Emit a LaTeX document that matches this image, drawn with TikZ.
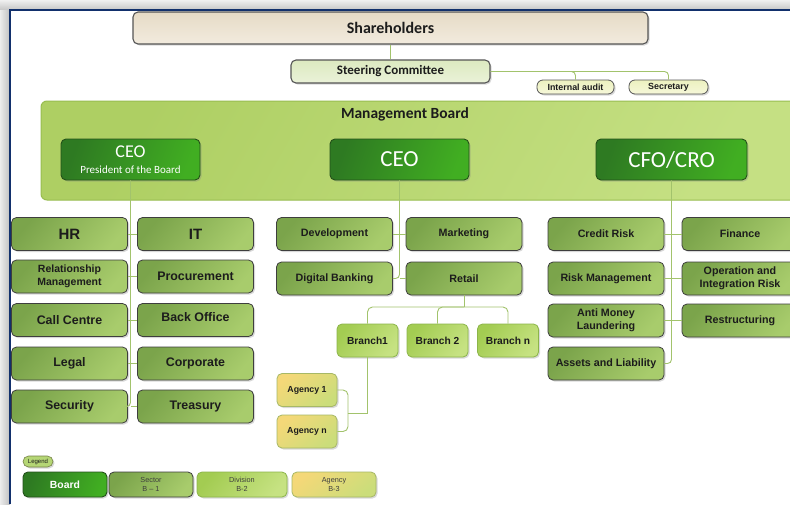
\documentclass[tikz,border=0pt]{standalone}
\usepackage{fontspec}
\setmainfont{Carlito}
\newfontfamily\arialf{Liberation Sans}
\usetikzlibrary{shadows}

\definecolor{inkCol}{HTML}{1C1C1C}
\definecolor{frameBlue}{HTML}{12306C}
\definecolor{connCol}{HTML}{A2C36C}
\definecolor{shareA}{HTML}{E6DBC6}
\definecolor{shareB}{HTML}{F2EBDE}
\definecolor{steerA}{HTML}{DCE9C0}
\definecolor{steerB}{HTML}{EAF2D8}
\definecolor{smallA}{HTML}{ECF1BF}
\definecolor{smallB}{HTML}{F6F8DA}
\definecolor{edgeGray}{HTML}{555555}
\definecolor{panelA}{HTML}{AECF63}
\definecolor{panelB}{HTML}{C5E083}
\definecolor{panelEdge}{HTML}{98BD50}
\definecolor{boardA}{HTML}{2E7A22}
\definecolor{boardB}{HTML}{41AE22}
\definecolor{boardEdge}{HTML}{24501A}
\definecolor{sectA}{HTML}{7BA44B}
\definecolor{sectB}{HTML}{A8CC6C}
\definecolor{sectEdge}{HTML}{3E3E3E}
\definecolor{divA}{HTML}{A3CC52}
\definecolor{divB}{HTML}{C6E282}
\definecolor{divEdge}{HTML}{8CB54A}
\definecolor{agA}{HTML}{F4D878}
\definecolor{agB}{HTML}{CBDD7A}
\definecolor{agEdge}{HTML}{A7B866}

\newcommand\fsz[2]{\fontsize{#1}{#2}\selectfont}

\begin{document}
\begin{tikzpicture}[x=1pt,y=-1pt,
		conn/.style={draw=connCol, line width=0.9pt},
		box/.style={rounded corners=5pt, inner sep=0pt, align=center,
			drop shadow={shadow xshift=1.5pt, shadow yshift=-1.5pt, opacity=0.3}},
		topbox/.style={box, draw=edgeGray, line width=1.1pt, text=inkCol},
		board/.style={box, draw=boardEdge, line width=0.9pt, left color=boardA, right color=boardB,
			shading angle=70, text=white},
		sector/.style={box, draw=sectEdge, line width=0.8pt, left color=sectA, right color=sectB,
			shading angle=50, text=inkCol, minimum width=116pt, minimum height=33pt,
			font=\arialf\bfseries\fsz{10.7}{13}},
		division/.style={box, draw=divEdge, line width=0.8pt, left color=divA, right color=divB,
			shading angle=50, text=inkCol, minimum width=61pt, minimum height=33pt,
			font=\arialf\bfseries\fsz{10.2}{12}},
		agency/.style={box, draw=agEdge, line width=0.8pt, left color=agA, right color=agB,
			shading angle=40, text=inkCol, minimum width=60pt, minimum height=33pt,
			font=\arialf\bfseries\fsz{8.8}{10}},
	]
		\useasboundingbox (0,0) rectangle (790,504);
		\clip (0,0) rectangle (790,504);

		% window frame
		\fill[gray!35] (0,0) rectangle (790,504);
		\shade[top color=gray!12, bottom color=gray!45] (0,0) rectangle (790,10);
		\shade[left color=gray!15, right color=gray!50] (0,10) rectangle (10,504);
		\fill[white] (10,10) rectangle (790,504);
		\draw[frameBlue, line width=1.6pt] (10,504) -- (10,10) -- (790,10);

		% top of the chart
		\node[topbox, top color=shareA, bottom color=shareB, minimum width=515pt, minimum height=32pt,
			font=\bfseries\fsz{16}{18}] (share) at (390.5,28) {Shareholders};
		\node[topbox, top color=steerA, bottom color=steerB, minimum width=199pt, minimum height=23pt,
			font=\bfseries\fsz{13}{15}] (steer) at (390.5,71.5) {Steering Committee};
		\node[topbox, line width=0.8pt, top color=smallA, bottom color=smallB, rounded corners=6pt,
			minimum width=77pt, minimum height=14pt, font=\arialf\bfseries\fsz{8.9}{10}]
			(audit) at (575.5,87) {Internal audit};
		\node[topbox, line width=0.8pt, top color=smallA, bottom color=smallB, rounded corners=6pt,
			minimum width=79pt, minimum height=14pt, font=\arialf\bfseries\fsz{8.9}{10}]
			(secr) at (668.5,87) {Secretary};

		\draw[conn] (share.south) -- (steer.north);
		\draw[conn, rounded corners=4pt] (steer.east) -| (audit.north);
		\draw[conn, rounded corners=4pt] (steer.east) -| (secr.north);

		% management board panel
		\shade[draw=panelEdge, line width=1pt, rounded corners=6pt, left color=panelA, right color=panelB,
			shading angle=60] (41,101) rectangle (805,200);
		\node[font=\bfseries\fsz{15.5}{17}, text=inkCol] (mbtitle) at (405,114) {Management Board};

		\node[board, minimum width=139pt, minimum height=41pt, font=\fsz{11}{16}] (ceoP) at (130.5,159.5)
			{{\fsz{18}{16}CEO}\\{\fsz{11}{16}President of the Board}};
		\node[board, minimum width=139pt, minimum height=41pt, font=\fsz{23}{24}] (ceoM) at (399.5,159.5) {CEO};
		\node[board, minimum width=151pt, minimum height=41pt, font=\fsz{23}{24}] (cfo) at (671.5,159.5) {CFO/CRO};

		% sectors under the president
		\node[sector, font=\arialf\bfseries\fsz{15}{16}] (hr) at (69.5,234) {HR};
		\node[sector, font=\arialf\bfseries\fsz{15}{16}] (it) at (195.5,234) {IT};
		\node[sector, font=\arialf\bfseries\fsz{10.5}{13}] (rel) at (69.5,276.5) {Relationship\\Management};
		\node[sector, font=\arialf\bfseries\fsz{12.4}{14}] (proc) at (195.5,276.5) {Procurement};
		\node[sector, font=\arialf\bfseries\fsz{12.4}{14}] (call) at (69.5,320) {Call Centre};
		\node[sector, font=\arialf\bfseries\fsz{12.4}{14}, text depth=6pt] (back) at (195.5,320) {Back Office};
		\node[sector, font=\arialf\bfseries\fsz{12.4}{14}] (legal) at (69.5,363.5) {Legal};
		\node[sector, font=\arialf\bfseries\fsz{12.4}{14}] (corp) at (195.5,363.5) {Corporate};
		\node[sector, font=\arialf\bfseries\fsz{12.4}{14}] (secu) at (69.5,406.5) {Security};
		\node[sector, font=\arialf\bfseries\fsz{12.4}{14}] (treas) at (195.5,406.5) {Treasury};

		\draw[conn, rounded corners=4pt] (ceoP.south) |- (secu.east);
		\foreach \n in {hr,rel,call,legal}
			\draw[conn] (\n.east) -- (\n.east -| ceoP.south);
		\foreach \n in {it,proc,back,corp,treas}
			\draw[conn] (\n.west) -- (\n.west -| ceoP.south);

		% sectors under the CEO
		\node[sector] (dev) at (334.5,234) {Development};
		\node[sector] (mark) at (464,234) {Marketing};
		\node[sector] (digi) at (334.5,278.5) {Digital Banking};
		\node[sector] (retail) at (464,278.5) {Retail};

		\draw[conn, rounded corners=4pt] (ceoM.south) |- (digi.east);
		\draw[conn] (dev.east) -- (dev.east -| ceoM.south);
		\foreach \n in {mark,retail}
			\draw[conn] (\n.west) -- (\n.west -| ceoM.south);

		% branches and agencies
		\node[division] (br1) at (367.5,340.5) {Branch1};
		\node[division] (br2) at (437.5,340.5) {Branch 2};
		\node[division] (brn) at (508,340.5) {Branch n};
		\node[agency] (ag1) at (307,390) {Agency 1};
		\node[agency] (agn) at (307,431.5) {Agency n};

		\coordinate (rbus) at (464,307);
		\draw[conn] (retail.south) -- (rbus);
		\foreach \n in {br1,br2,brn}
			\draw[conn, rounded corners=5pt] (rbus) -| (\n.north);
		\coordinate (agjoin) at (348,413);
		\draw[conn] (br1.south) |- (agjoin);
		\draw[conn, rounded corners=5pt] (agjoin) |- (ag1.east);
		\draw[conn, rounded corners=5pt] (agjoin) |- (agn.east);

		% sectors under the CFO/CRO
		\node[sector] (credit) at (606,234) {Credit Risk};
		\node[sector] (fin) at (740,234) {Finance};
		\node[sector] (riskm) at (606,278.5) {Risk Management};
		\node[sector] (oper) at (740,278.5) {Operation and\\Integration Risk};
		\node[sector] (aml) at (606,320.5) {Anti Money\\Laundering};
		\node[sector] (restr) at (740,320.5) {Restructuring};
		\node[sector] (assets) at (606,363.5) {Assets and Liability};

		\draw[conn, rounded corners=4pt] (cfo.south) |- (assets.east);
		\foreach \n in {credit,riskm,aml}
			\draw[conn] (\n.east) -- (\n.east -| cfo.south);
		\foreach \n in {fin,oper,restr}
			\draw[conn] (\n.west) -- (\n.west -| cfo.south);

		% legend
		\node[box, draw=agEdge!70!black, line width=0.6pt, fill=divA!80!white, rounded corners=5.5pt,
			minimum width=30pt, minimum height=11pt, font=\arialf\fsz{6}{7}, text=inkCol] (leg) at (38,461.5) {Legend};
		\node[board, minimum width=84pt, minimum height=25pt, font=\arialf\bfseries\fsz{10.4}{12}]
			(lgboard) at (65,484.5) {Board};
		\node[sector, minimum width=84pt, minimum height=25pt, font=\arialf\fsz{7.3}{8.5}, text=inkCol!85]
			(lgsect) at (151,484.5) {Sector\\B – 1};
		\node[division, minimum width=90pt, minimum height=25pt, font=\arialf\fsz{7.3}{8.5}, text=inkCol!85]
			(lgdiv) at (242,484.5) {Division\\B-2};
		\node[agency, minimum width=84pt, minimum height=25pt, font=\arialf\fsz{7.3}{8.5}, text=inkCol!85]
			(lgag) at (334,484.5) {Agency\\B-3};
	\end{tikzpicture}
\end{document}
